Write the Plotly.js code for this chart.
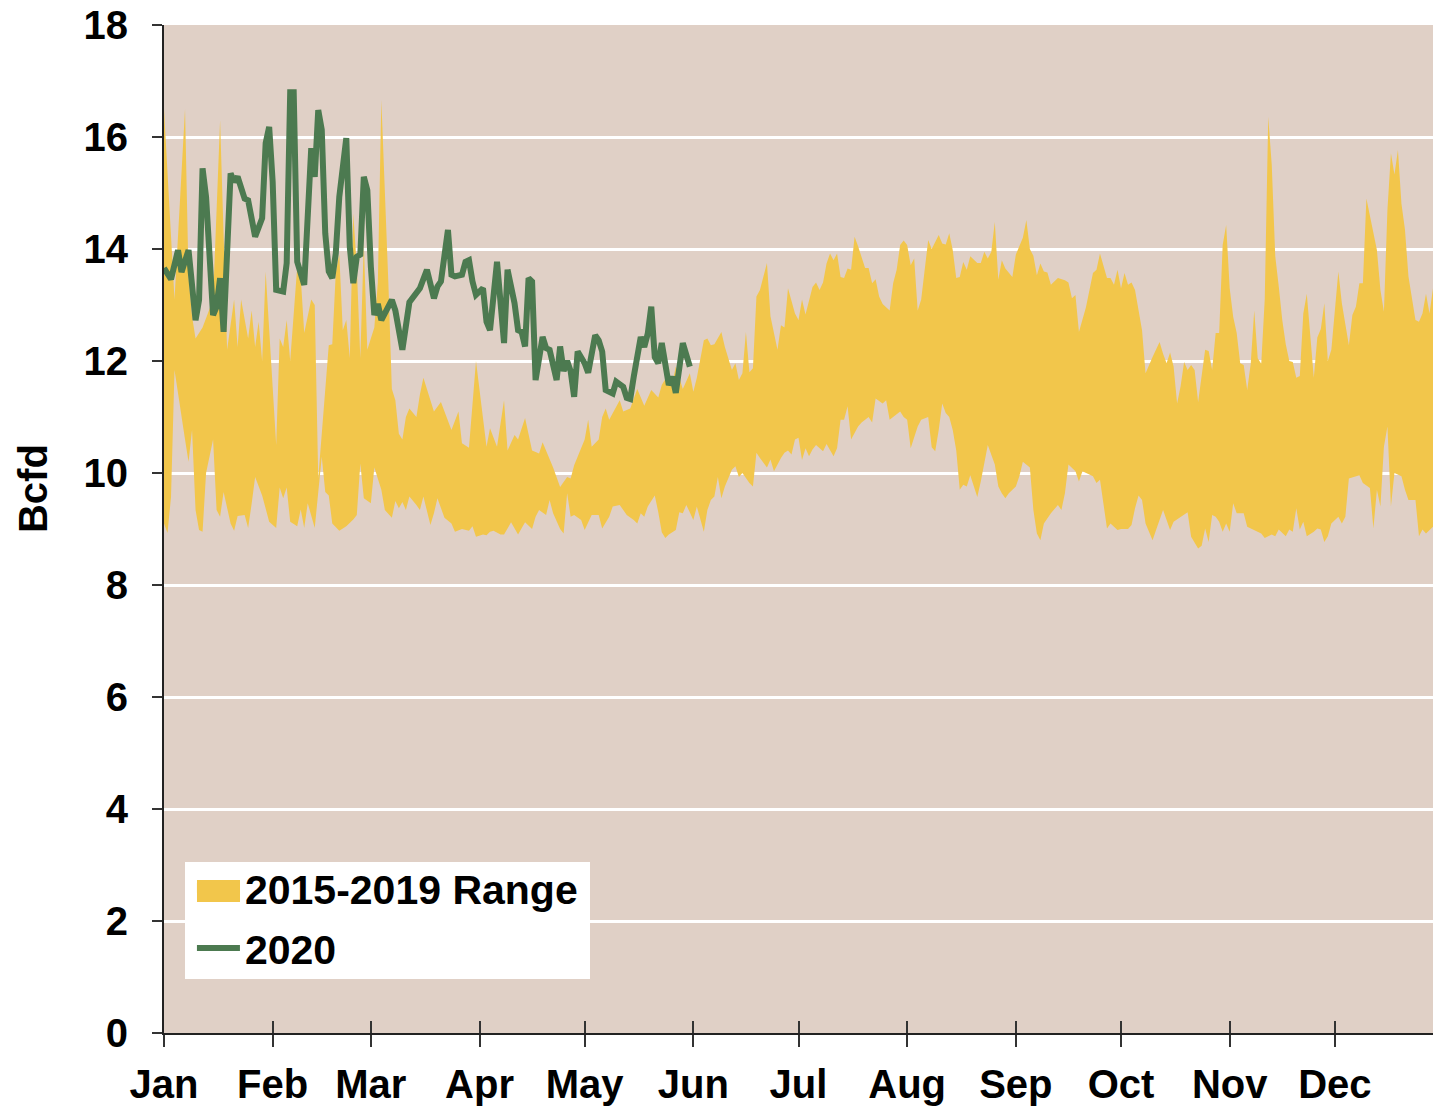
<!DOCTYPE html>
<html>
<head>
<meta charset="utf-8">
<script src="https://cdn.plot.ly/plotly-3.0.1.min.js"></script>
<style>html,body{margin:0;padding:0;background:#fff;}#chart{width:1433px;height:1107px;}</style>
</head>
<body>
<div id="chart"></div>
<script>
// Day-of-year (0 = Jan 1) axis
const monthStarts = [0, 31, 59, 90, 120, 151, 181, 212, 243, 273, 304, 334];
const monthLabels = ["Jan", "Feb", "Mar", "Apr", "May", "Jun", "Jul", "Aug", "Sep", "Oct", "Nov", "Dec"];

// 2015-2019 range: upper envelope (day, Bcfd)
const upperDays = [0,3,6,7,8,9,11,14,16,18,20,21,22,24,25,26,27,28,29,32,33,34,35,36,38,39,40,42,43,44,47,48,49,50,51,52,53,54,55,56,57,58,59,60,61,62,64,65,66,67,68,69,70,72,73,74,76,77,79,82,84,85,87,89,92,93,95,97,98,100,101,103,105,107,108,111,113,115,116,117,120,121,122,124,125,126,127,130,131,133,135,137,139,141,142,144,145,146,148,150,151,152,154,155,156,157,159,160,162,163,164,165,166,167,168,169,170,172,173,175,176,177,178,180,181,182,183,185,186,187,188,189,190,191,192,193,194,195,196,197,198,199,200,201,202,203,204,205,207,208,209,210,211,212,213,214,215,216,217,218,219,221,222,223,224,225,226,227,228,229,230,232,233,234,235,236,237,238,239,240,242,243,245,246,247,248,249,250,251,252,253,255,257,258,259,260,261,263,265,266,267,269,270,271,272,273,274,275,276,277,279,280,282,284,285,286,287,288,289,290,291,292,293,294,295,296,297,298,299,300,301,302,303,304,305,306,307,308,309,310,311,312,313,314,315,316,317,318,319,320,321,322,323,324,325,326,327,328,329,330,331,332,333,335,336,338,339,340,341,342,343,344,346,347,348,349,350,351,352,353,354,355,357,358,359,360,361,362];
const upperVals = [16.5,13.1,16.5,13.5,12.8,12.4,12.6,13.1,16.3,12.2,13.1,12.25,13.1,12.4,12.9,12.25,12.7,12.0,13.6,10.5,12.4,12.25,12.73,12.0,13.68,13.5,12.5,13.1,13.0,9.9,12.28,12.3,13.57,13.9,12.55,12.73,12.05,14.64,13.68,12.05,14.1,12.2,12.4,12.6,13.4,16.66,13.4,11.5,11.3,10.7,10.6,11.0,11.15,11.0,11.4,11.7,11.3,11.1,11.27,10.77,11.1,10.53,10.45,12.0,10.47,10.8,10.47,11.3,10.4,10.68,10.6,10.98,10.4,10.35,10.55,10.1,9.75,9.93,9.9,10.14,10.6,10.95,10.47,10.6,11.0,11.15,10.95,11.3,11.1,11.15,11.5,11.2,11.48,11.35,11.57,11.78,11.6,11.9,11.5,11.78,11.45,11.7,12.37,12.4,12.28,12.3,12.52,12.25,11.84,11.96,11.66,11.78,12.52,11.8,11.87,13.15,13.27,13.75,12.8,12.2,12.64,12.6,13.3,12.85,12.73,13.1,12.83,13.32,13.4,13.27,13.4,13.74,13.92,13.8,13.92,13.5,13.48,13.65,13.63,14.22,14.05,13.87,13.66,13.66,13.39,13.46,13.15,13.02,12.9,13.39,13.63,14.07,14.15,14.07,13.71,13.83,12.9,13.1,13.6,14.16,14.0,14.25,14.1,14.08,14.28,13.98,13.48,13.5,13.77,13.63,13.87,13.75,13.75,13.95,13.83,13.95,14.48,13.45,13.8,13.65,13.5,13.9,14.2,14.52,14.0,13.88,13.53,13.74,13.6,13.58,13.36,13.48,13.44,13.4,13.12,13.18,12.52,12.96,13.57,13.63,13.92,13.48,13.48,13.36,13.63,13.3,13.57,13.36,13.4,13.27,12.55,11.78,12.07,12.34,12.13,11.96,12.15,11.9,11.24,11.55,11.98,11.84,11.93,11.84,11.27,11.72,12.2,12.18,11.84,12.5,12.5,14.07,14.43,13.3,12.79,12.5,11.96,11.93,11.48,11.95,12.9,12.05,11.95,13.1,16.36,15.5,13.87,13.33,12.73,12.3,12.0,11.98,11.7,11.73,12.85,13.2,12.37,11.7,12.42,12.57,13.03,12.0,12.2,13.6,13.03,12.28,12.82,12.97,13.39,13.39,14.9,14.6,13.98,13.27,12.88,14.7,15.71,15.33,15.77,14.81,14.35,13.51,12.73,12.7,12.85,13.2,12.85,13.3];

// 2015-2019 range: lower envelope (day, Bcfd)
const lowerDays = [0,1,2,3,6,7,8,9,10,11,12,14,15,16,17,19,20,21,23,24,25,26,28,30,32,33,34,35,36,38,39,40,41,43,45,46,47,48,50,52,54,55,56,57,59,60,62,63,65,66,67,68,69,70,72,73,74,76,77,78,80,82,83,85,87,88,89,91,92,93,94,96,97,99,101,103,105,106,107,109,110,111,113,114,115,116,117,119,120,122,124,125,127,128,130,132,134,135,136,137,138,140,141,142,143,144,146,147,148,149,151,152,154,155,156,157,158,159,160,162,163,164,165,167,168,169,170,172,173,174,176,177,178,179,180,181,182,183,184,185,186,188,189,191,192,193,194,195,196,198,199,201,202,203,205,206,207,210,211,212,213,215,216,218,219,220,221,222,223,224,225,226,227,228,229,230,232,233,234,235,237,238,239,240,241,243,244,245,247,248,249,250,251,253,255,256,257,258,260,261,262,263,265,266,267,269,270,272,273,275,276,277,278,279,280,282,283,285,287,288,290,292,293,295,296,297,298,299,300,301,302,303,304,305,306,308,309,310,312,313,314,316,317,318,320,321,322,323,324,325,326,328,329,330,331,332,333,335,336,337,338,341,342,344,345,346,347,348,349,350,351,353,354,355,357,358,359,360,362];
const lowerVals = [9.1,8.93,9.57,11.84,10.6,10.2,10.77,9.34,8.98,8.95,10.0,10.6,9.34,9.22,9.66,9.1,8.97,9.23,9.25,9.02,9.45,9.93,9.6,9.13,9.02,9.74,9.55,9.74,9.13,9.05,9.35,9.02,9.46,9.02,10.29,9.66,9.6,9.1,8.97,9.05,9.17,9.25,10.17,9.55,9.46,10.1,9.7,9.34,9.2,9.5,9.37,9.48,9.34,9.58,9.43,9.34,9.58,9.07,9.28,9.55,9.2,9.1,8.95,9.0,8.97,9.05,8.86,8.9,8.89,8.95,8.97,8.9,8.9,9.12,8.9,9.12,9.0,9.22,9.34,9.25,9.52,9.28,9.0,8.92,9.64,9.22,9.25,9.16,8.98,9.25,9.25,9.01,9.22,9.4,9.43,9.25,9.16,9.1,9.28,9.22,9.4,9.6,9.3,8.94,8.84,8.9,8.98,9.3,9.28,9.43,9.16,9.4,8.95,9.34,9.52,9.58,9.93,9.55,9.76,10.06,10.12,9.93,10.0,9.82,9.76,10.36,10.27,10.1,10.24,10.03,10.27,10.36,10.4,10.33,10.6,10.63,10.23,10.44,10.3,10.42,10.5,10.39,10.52,10.3,10.44,10.95,10.95,11.19,10.6,10.83,10.9,11.0,10.9,11.33,11.24,11.3,10.95,11.1,11.0,10.95,10.44,10.83,10.95,11.0,10.46,10.39,10.77,11.24,11.07,11.0,10.77,10.4,9.7,9.79,9.76,9.96,9.57,9.85,10.15,10.5,10.15,9.76,9.64,9.55,9.64,9.76,9.94,10.2,10.1,9.34,8.92,8.8,9.1,9.28,9.43,9.34,9.64,10.15,10.03,9.85,10.03,10.0,9.94,9.82,9.88,9.01,9.1,8.98,9.0,9.0,9.07,9.37,9.6,9.52,9.1,8.8,8.98,9.34,8.98,9.13,9.22,9.3,8.86,8.65,8.7,9.01,8.77,9.25,9.22,9.13,8.95,9.1,8.95,9.46,9.28,9.28,9.04,9.01,8.95,8.92,8.84,8.9,8.87,8.99,8.87,8.99,8.95,9.37,8.99,9.13,8.87,8.95,9.01,8.99,8.77,8.87,9.1,9.22,9.1,9.22,9.9,9.96,9.82,9.73,9.01,9.7,9.4,10.47,10.83,9.4,10.0,9.94,9.7,9.52,9.52,8.87,8.99,8.92,9.04];

// 2020 daily (day, Bcfd)
const days2020 = [0,2,4,5,7,9,10,11,12,14,15,16,17,19,20,21,23,24,26,28,29,30,31,32,34,35,36,37,38,40,42,43,44,45,46,47,48,49,50,52,53,54,55,56,57,58,59,60,61,62,64,65,66,68,70,71,72,73,75,77,78,79,81,82,83,85,86,87,88,89,91,92,93,95,97,98,100,101,102,103,104,105,106,108,109,110,112,113,114,115,116,117,118,120,121,123,124,125,126,128,129,131,132,133,134,136,137,138,139,140,141,142,144,145,146,148,150];
const vals2020 = [13.66,13.46,13.98,13.59,13.98,12.73,13.09,15.44,14.93,12.82,12.97,13.48,12.52,15.35,15.2,15.29,14.9,14.87,14.22,14.55,15.89,16.18,15.2,13.27,13.24,13.75,16.8,16.8,13.77,13.36,15.8,15.29,16.48,16.13,14.28,13.6,13.48,13.92,14.93,15.98,14.04,13.39,13.86,13.9,15.29,15.05,13.69,12.82,13.02,12.73,12.97,13.09,12.9,12.2,13.05,13.12,13.2,13.3,13.63,13.12,13.33,13.42,14.34,13.54,13.51,13.54,13.77,13.8,13.42,13.18,13.3,12.7,12.55,13.77,12.32,13.63,13.03,12.55,12.52,12.26,13.48,13.42,11.66,12.43,12.23,12.2,11.66,12.26,11.82,12.0,11.82,11.36,12.17,11.96,11.79,12.46,12.37,12.17,11.48,11.42,11.63,11.54,11.34,11.32,11.72,12.43,12.25,12.49,12.97,12.07,11.96,12.32,11.57,11.72,11.43,12.32,11.9];

const FONT = {family: "'Liberation Sans', Arial, sans-serif", size: 40, color: "#000", weight: "bold"};
const LEGFONT = {family: "'Liberation Sans', Arial, sans-serif", size: 41, color: "#000", weight: "bold"};
const YELLOW = "#F2C64B";
const GREEN = "#4C7A50";

const rangeTrace = {
  x: upperDays.concat(lowerDays.slice().reverse()),
  y: upperVals.concat(lowerVals.slice().reverse()),
  type: "scatter", mode: "lines", fill: "toself",
  fillcolor: YELLOW, line: {width: 0, color: YELLOW},
  name: "2015-2019 Range", showlegend: false, hoverinfo: "skip"
};
// legend entry for the range
const rangeLegend = {
  x: [null], y: [null], type: "scatter", mode: "lines",
  line: {color: YELLOW, width: 22}, name: "2015-2019 Range",
  legendgroup: "a", hoverinfo: "skip"
};
const line2020 = {
  x: days2020, y: vals2020, type: "scatter", mode: "lines",
  line: {color: GREEN, width: 6}, name: "2020", legendgroup: "b"
};
// carrier for the inner half of the x ticks
const tickCarrier = {x: [0], y: [null], xaxis: "x2", yaxis: "y", type: "scatter", mode: "lines", showlegend: false, hoverinfo: "skip"};

const layout = {
  width: 1433, height: 1107,
  margin: {l: 164, r: 0, t: 25, b: 74},
  paper_bgcolor: "#ffffff", plot_bgcolor: "#E0D0C6",
  showlegend: true,
  font: FONT,
  xaxis: {
    range: [0, 362], tickmode: "array", tickvals: monthStarts, ticktext: monthLabels,
    showgrid: false, zeroline: false, showline: true, linecolor: "#222", linewidth: 2,
    ticks: "outside", ticklen: 12, tickwidth: 2, tickcolor: "#333",
    tickfont: FONT, ticklabelstandoff: 3
  },
  xaxis2: {
    overlaying: "x", matches: "x", anchor: "y", side: "bottom",
    range: [0, 362], tickmode: "array", tickvals: monthStarts,
    showticklabels: false, showgrid: false, zeroline: false, showline: false,
    ticks: "inside", ticklen: 12, tickwidth: 2, tickcolor: "#333"
  },
  yaxis: {
    range: [0, 18], dtick: 2, tick0: 0,
    showgrid: true, gridcolor: "#ffffff", gridwidth: 3,
    zeroline: false, showline: true, linecolor: "#222", linewidth: 2,
    ticks: "outside", ticklen: 10, tickwidth: 2, tickcolor: "#333",
    tickfont: FONT, ticklabelstandoff: 16
  },
  annotations: [{
    text: "Bcfd", textangle: -90, font: FONT, showarrow: false,
    xref: "paper", yref: "paper", x: -0.1032, y: 0.5397,
    xanchor: "center", yanchor: "middle"
  }],
  // legend box and range swatch
  shapes: [
    {type: "rect", xref: "paper", yref: "paper", layer: "above",
     x0: 0.01655, x1: 0.3357, y0: 0.05357, y1: 0.1696,
     fillcolor: "#ffffff", line: {width: 0}},
    {type: "rect", xref: "paper", yref: "paper", layer: "above",
     x0: 0.0260, x1: 0.0599, y0: 0.1300, y1: 0.1518,
     fillcolor: YELLOW, line: {width: 0}}
  ],
  legend: {
    x: 0.0165, y: 0.177, xanchor: "left", yanchor: "top",
    bgcolor: "rgba(255,255,255,0)", borderwidth: 0, font: LEGFONT,
    itemwidth: 43, indentation: 7, traceorder: "grouped", tracegroupgap: 4
  }
};

Plotly.newPlot("chart", [rangeTrace, rangeLegend, line2020, tickCarrier], layout, {displayModeBar: false, staticPlot: true});
</script>
</body>
</html>
